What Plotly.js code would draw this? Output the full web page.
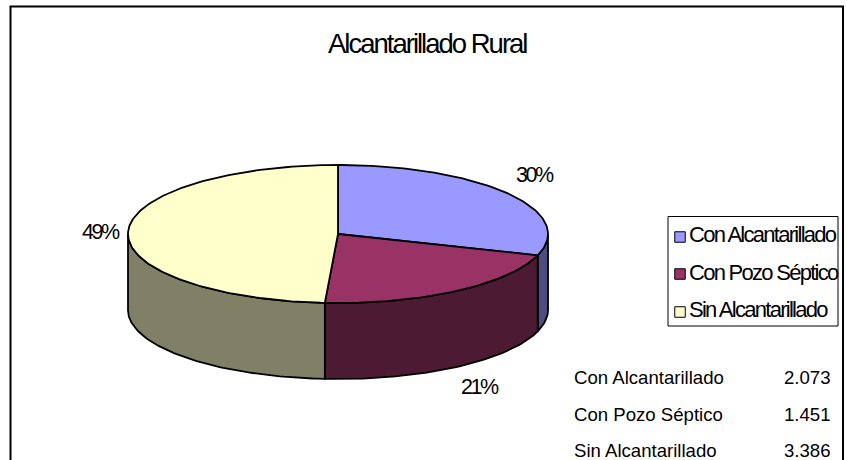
<!DOCTYPE html>
<html><head><meta charset="utf-8">
<script src="https://cdn.plot.ly/plotly-3.0.1.min.js"></script>
<style>
html,body{margin:0;padding:0;background:#fff}
#c{width:847px;height:460px}
.annotation-text[style*="font-size: 27.5px"]{letter-spacing:-2px}
.annotation-text[style*="font-size: 21.5px"]{letter-spacing:-2.4px}
.annotation-text[style*="font-size: 22px"]{letter-spacing:-1.72px}
</style></head><body><div id="c"></div>
<script>
var titleText = 'Alcantarillado Rural';
var categories = ['Con Alcantarillado', 'Con Pozo Séptico', 'Sin Alcantarillado'];
var values = [2073, 1451, 3386];
var valueLabels = ['2.073', '1.451', '3.386'];
var percentLabels = ['30%', '21%', '49%'];
var topColors = ['#9999FF', '#993366', '#FFFFCC'];
var wallColors = ['#4D4D80', '#4D1A33', '#808066'];

var cx = 338, cy = 234, rx = 210, ry = 69, depth = 76;
var labelPos = [[535,175],[480,387],[101,232]];
var legendY = [237, 274, 312];
var legendTextY = [234, 272, 309];
var tableY = [377, 414, 450];

function px(t){return cx + rx*Math.sin(t);}
function py(t){return cy - ry*Math.cos(t);}
function arc(a,b){
  var o=[], n=Math.max(2,Math.ceil(Math.abs(b-a)/0.02));
  for(var i=0;i<=n;i++) o.push(a+(b-a)*i/n);
  return o;
}
var total = values.reduce(function(s,v){return s+v;},0);
var traces = [], acc = 0;
var lineStyle = {color:'#000', width:1.8};
var tops = [];
values.forEach(function(v,i){
  var a = acc/total*2*Math.PI, b = (acc+v)/total*2*Math.PI; acc += v;
  var wa = Math.max(a, Math.PI/2), wb = Math.min(b, 3*Math.PI/2);
  if (wb > wa) {
    var fwd = arc(wa,wb), back = fwd.slice().reverse();
    traces.push({type:'scatter',mode:'lines',fill:'toself',fillcolor:wallColors[i],line:lineStyle,hoverinfo:'skip',showlegend:false,
      x: fwd.map(px).concat(back.map(px)).concat([px(wa)]),
      y: fwd.map(py).concat(back.map(function(t){return py(t)+depth;})).concat([py(wa)])});
  }
  var t = arc(a,b);
  tops.push({type:'scatter',mode:'lines',fill:'toself',fillcolor:topColors[i],line:lineStyle,hoverinfo:'skip',showlegend:false,name:categories[i],
    x: [cx].concat(t.map(px)).concat([cx]),
    y: [cy].concat(t.map(py)).concat([cy])});
});
traces = traces.concat(tops);
traces.push({type:'scatter',mode:'markers',hoverinfo:'skip',showlegend:false,
  x:[680,680,680], y:legendY,
  marker:{symbol:'square',size:10.5,color:topColors,line:{color:'#000',width:1}}});

var ann = [{x:427,y:43,text:titleText,size:27.5}];
percentLabels.forEach(function(p,i){ann.push({x:labelPos[i][0],y:labelPos[i][1],text:p,size:21.5});});
categories.forEach(function(c,i){
  ann.push({x:686.5,y:legendTextY[i],text:c,xanchor:'left',size:22});
  ann.push({x:571.5,y:tableY[i],text:c,xanchor:'left',size:18.6});
  ann.push({x:832.5,y:tableY[i],text:valueLabels[i],xanchor:'right',size:18.6});
});
ann = ann.map(function(a){
  return {x:a.x,y:a.y,text:a.text,xref:'x',yref:'y',showarrow:false,xanchor:a.xanchor||'center',yanchor:'middle',
    font:{family:'Liberation Sans',size:a.size,color:'#000'}};
});

var layout = {
  width:847,height:460,margin:{l:0,r:0,t:0,b:0},paper_bgcolor:'#fff',plot_bgcolor:'#fff',showlegend:false,
  xaxis:{range:[0,847],visible:false,fixedrange:true},
  yaxis:{range:[460,0],visible:false,fixedrange:true},
  annotations:ann,
  shapes:[
    {type:'rect',xref:'x',yref:'y',x0:10.5,x1:843,y0:6.5,y1:480,line:{color:'#000',width:2},fillcolor:'rgba(0,0,0,0)'},
    {type:'rect',xref:'x',yref:'y',x0:668,x1:838,y0:216.5,y1:326,line:{color:'#000',width:1},fillcolor:'#fff',layer:'below'}
  ]
};
Plotly.newPlot('c',traces,layout,{staticPlot:true,displayModeBar:false});
</script></body></html>
